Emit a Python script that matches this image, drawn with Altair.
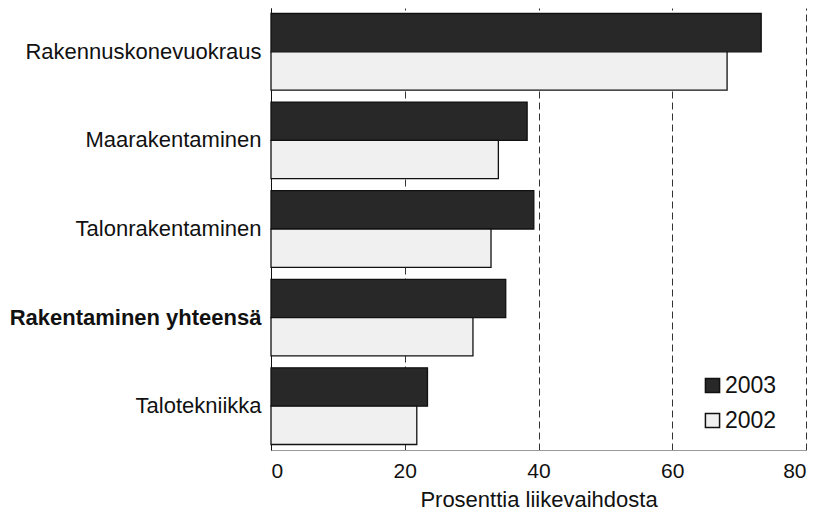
import altair as alt
import pandas as pd

categories = ["Rakennuskonevuokraus", "Maarakentaminen", "Talonrakentaminen",
              "Rakentaminen yhteensä", "Talotekniikka"]
v2003 = [73.3, 38.3, 39.3, 35.1, 23.4]
v2002 = [68.2, 34.0, 32.9, 30.2, 21.8]
years = ["2003", "2002"]
x_ticks = [0, 20, 40, 60, 80]

rows = []
for c, a, b in zip(categories, v2003, v2002):
    rows.append({"ala": c, "vuosi": "2003", "arvo": a})
    rows.append({"ala": c, "vuosi": "2002", "arvo": b})
df = pd.DataFrame(rows)

FONT = "Liberation Sans"

chart = alt.Chart(df).mark_bar(stroke="#111111", strokeWidth=1.3).encode(
    x=alt.X("arvo:Q",
            scale=alt.Scale(domain=[0, 80], nice=False),
            axis=alt.Axis(values=x_ticks, title="Prosenttia liikevaihdosta",
                          grid=True, gridDash=[7, 4], gridColor="#333333",
                          ticks=False, domainColor="#999999",
                          labelFontSize=21, titleFontSize=22, labelPadding=10,
                          titlePadding=8, titleFontWeight="normal",
                          labelColor="#111111", titleColor="#111111",
                          labelFont=FONT, titleFont=FONT)),
    y=alt.Y("ala:N", sort=categories,
            scale=alt.Scale(paddingInner=0.135, paddingOuter=0.062),
            axis=alt.Axis(title=None, ticks=False, labelFontSize=22,
                          labelPadding=10, domainColor="#111111",
                          labelColor="#111111", labelFont=FONT, labelLimit=400,
                          labelFontWeight={"condition": {"test": "datum.value == 'Rakentaminen yhteensä'",
                                                         "value": "bold"},
                                           "value": "normal"})),
    yOffset=alt.YOffset("vuosi:N", sort=years,
                        scale=alt.Scale(paddingInner=0, paddingOuter=0)),
    color=alt.Color("vuosi:N", sort=years,
                    scale=alt.Scale(domain=years, range=["#282828", "#f0f0f0"]),
                    legend=alt.Legend(orient="none", legendX=430, legendY=366,
                                      title=None, labelFontSize=23, labelFont=FONT,
                                      labelColor="#111111",
                                      symbolType="square", symbolSize=200,
                                      symbolStrokeColor="#111111",
                                      symbolStrokeWidth=1.5, rowPadding=11,
                                      labelOffset=1, padding=0)),
).properties(
    width=535, height=442,
    autosize=alt.AutoSizeParams(type="none"),
    padding={"left": 263, "top": 0, "right": 12, "bottom": 60},
).configure_view(stroke=None)

chart.save("out.html", embed_options={"renderer": "svg", "actions": False})
